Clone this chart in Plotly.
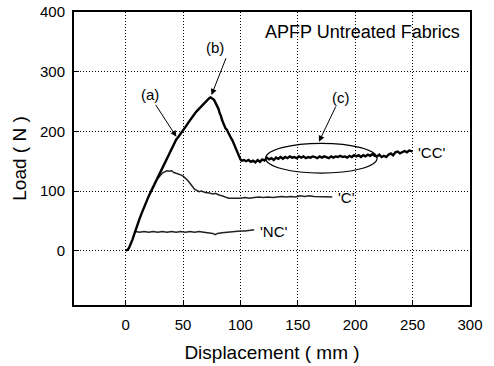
import plotly.graph_objects as go

# 'CC' curve
cc_x = [0,1,2,3,4,5,6,7,8,9,10,12,14,16,18,20,22,24,26,28,30,32,34,36,38,40,42,44,46,48,50,52,54,56,58,60,62,64,66,68,70,72,73,74,75,76,77,78,79,80,81,82,83,84,85,86,87,88,89,90,91,92,93,94,95,96,97,98,99,100,101,103,105,107,109,111,113,115,117,119,121,123,125,127,129,131,133,135,137,139,141,143,145,147,149,151,153,155,157,159,161,163,165,167,169,171,173,175,177,179,181,183,185,187,189,191,193,195,197,199,201,203,205,207,209,211,213,215,217,219,221,223,225,227,229,231,233,235,237,239,241,243,245,247,249,250]
cc_y = [0,0.5,2,5,9,14,19,25,31,37,43,53,63,73,82,91,99,107,114,121,129,137,145,152,160,168,176,186,191,196,202,207,213,219,224,229,234,238,243,247,251,254,256,257,256,255,253,249,245,240,237,230,226,219,213,210,205,203,199,194,191,188,185,180,176,172,166,160,156,153,151,152,150,152,149,151,148,152,149,153,151,156,153,155,152,156,154,157,154,157,155,158,156,157,155,158,156,158,155,157,156,158,157,155,158,156,158,157,155,158,156,158,157,159,157,158,156,159,157,160,158,160,157,160,158,161,159,162,159,158,161,157,159,157,161,163,160,165,166,163,165,167,165,168,167,166]

# 'C' curve
c_x = [28,30,32,34,36,38,40,42,44,46,48,50,52,54,56,58,60,62,64,66,68,70,72,74,76,78,80,82,84,86,88,90,92,94,96,98,100,104,108,112,116,120,124,128,132,136,140,144,148,152,156,160,164,168,172,176,180]
c_y = [121,126,130,132,134,133,134,131,130,128,127,125,122,118,113,107,103,101,99,100,98,97,97,96,95,96,94,93,92,90,89,88,88,87,88,87,88,89,88,89,90,89,90,89,90,91,90,91,90,92,91,92,91,91,90,90,90]

# 'NC' curve
nc_x = [8,9,12,16,20,24,28,32,36,40,44,48,52,56,60,64,68,72,76,78,80,84,88,92,96,100,104,108,112]
nc_y = [31,32,31,32,31,32,31,32,31,32,31,32,31,32,31,32,31,30,29,27,29,30,31,32,32,33,33,34,35]

x_ticks = [0, 50, 100, 150, 200, 250, 300]
y_ticks = [0, 100, 200, 300, 400]

FONT = "Arial, Liberation Sans, Helvetica, sans-serif"

fig = go.Figure()
fig.add_trace(go.Scatter(x=c_x, y=c_y, mode="lines", line=dict(color="#222", width=1.5), showlegend=False))
fig.add_trace(go.Scatter(x=nc_x, y=nc_y, mode="lines", line=dict(color="#222", width=1.5), showlegend=False))
fig.add_trace(go.Scatter(x=cc_x, y=cc_y, mode="lines", line=dict(color="black", width=2.4), showlegend=False))

ann = []
# arrows
for (tx, ty, hx, hy) in [(25.3, 247, 44.2, 191), (87.9, 325, 74.8, 261), (183.7, 244, 168.4, 182.6)]:
    ann.append(dict(x=hx, y=hy, ax=tx, ay=ty, xref="x", yref="y", axref="x", ayref="y",
                    text="", showarrow=True, arrowhead=2, arrowsize=1.2, arrowwidth=1, arrowcolor="black"))
for (t, x, y) in [("(a)", 21, 262), ("(b)", 77.7, 340), ("(c)", 188, 256)]:
    ann.append(dict(x=x, y=y, xref="x", yref="y", text=t, showarrow=False,
                    font=dict(family=FONT, size=15, color="black")))
for (t, x, y) in [("'CC'", 253, 165), ("'C'", 183, 89), ("'NC'", 115, 32)]:
    ann.append(dict(x=x, y=y, xref="x", yref="y", text=t, showarrow=False, xanchor="left",
                    font=dict(family=FONT, size=15, color="black")))
ann.append(dict(x=293, y=366, xref="x", yref="y", text="APFP Untreated Fabrics", showarrow=False,
                xanchor="right", font=dict(family=FONT, size=18, color="black")))

fig.update_layout(
    width=494, height=366,
    margin=dict(l=74, r=24, t=12, b=61),
    paper_bgcolor="white", plot_bgcolor="white",
    font=dict(family=FONT, color="black"),
    annotations=ann,
    shapes=[dict(type="circle", xref="x", yref="y", x0=122, x1=219, y0=130, y1=180,
                 line=dict(color="black", width=1.2))],
)
fig.update_xaxes(range=[-45, 300], tickvals=x_ticks, ticks="inside", ticklen=5, tickcolor="black",
                 showline=True, linecolor="black", linewidth=2, mirror=True, automargin=False,
                 showgrid=True, gridcolor="black", gridwidth=1, griddash="1px,2px", zeroline=False,
                 tickfont=dict(size=15), ticklabelstandoff=5,
                 title=dict(text="Displacement ( mm )", font=dict(size=19), standoff=14))
fig.update_yaxes(range=[-91, 400], tickvals=y_ticks, ticks="inside", ticklen=5, tickcolor="black",
                 showline=True, linecolor="black", linewidth=2, mirror=True, automargin=False,
                 showgrid=True, gridcolor="black", gridwidth=1, griddash="1px,2px", zeroline=False,
                 tickfont=dict(size=15), ticklabelstandoff=4,
                 title=dict(text="Load ( N )", font=dict(size=19), standoff=8))

fig.write_html("out.html")
